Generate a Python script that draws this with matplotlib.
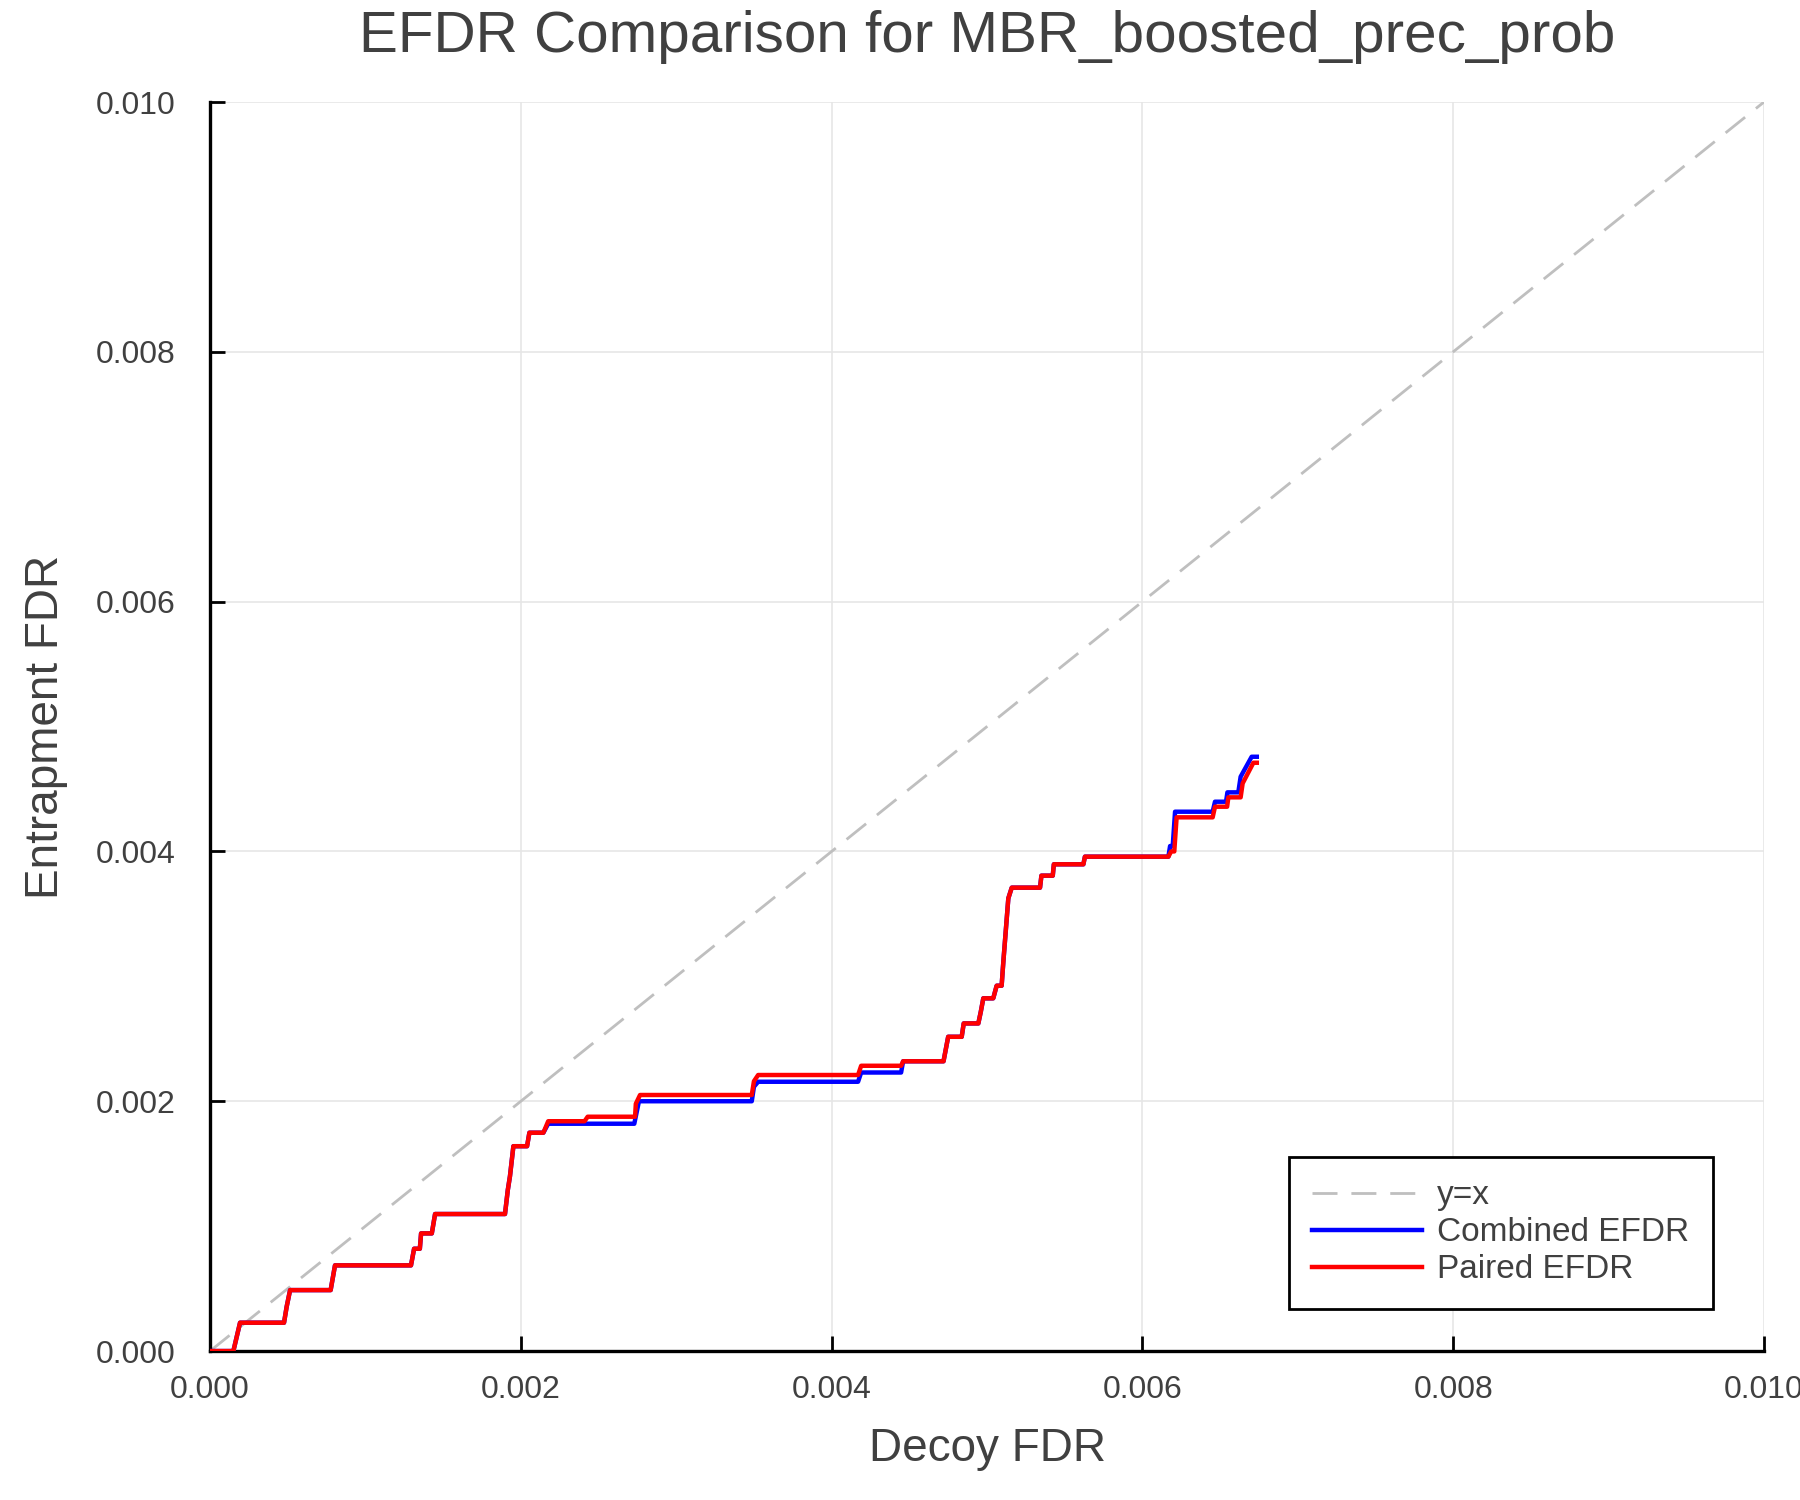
"""
EFDR comparison plot (decoy FDR vs entrapment FDR)
Generates: out.png
"""
import matplotlib
matplotlib.use("Agg")
import matplotlib.pyplot as plt
import numpy as np

TITLE = "EFDR Comparison for MBR_boosted_prec_prob"
X_LABEL = "Decoy FDR"
Y_LABEL = "Entrapment FDR"
TICKS = [0.000, 0.002, 0.004, 0.006, 0.008, 0.010]

# combined EFDR curve
combined_x = [
    0.0, 0.00015, 0.000193, 0.000476, 0.000493, 0.000515, 0.000776, 0.000804,
    0.001293, 0.001313, 0.00135, 0.001358, 0.001427, 0.001448, 0.001898, 0.001916,
    0.00193, 0.001952, 0.00204, 0.002055, 0.002145, 0.002176, 0.00273, 0.00276,
    0.003486, 0.0035, 0.003527, 0.00417, 0.00419, 0.004447, 0.00446, 0.00472,
    0.00475, 0.004837, 0.00485, 0.004944, 0.00496, 0.004976, 0.00504, 0.005062,
    0.005094, 0.005105, 0.005137, 0.005159, 0.005341, 0.00535, 0.005423, 0.00543,
    0.00562, 0.00563, 0.006167, 0.006178, 0.006195, 0.00621, 0.006452, 0.006467,
    0.006538, 0.006547, 0.006617, 0.006632, 0.006703, 0.006736,
]
combined_y = [
    0.0, 0.0, 0.000227, 0.000227, 0.000355, 0.000488, 0.000488, 0.000686,
    0.000686, 0.000819, 0.000819, 0.000942, 0.000942, 0.001097, 0.001097, 0.001289,
    0.0014, 0.00164, 0.00164, 0.001748, 0.001748, 0.00182, 0.00182, 0.002,
    0.002, 0.002116, 0.002156, 0.002156, 0.00223, 0.00223, 0.00232, 0.00232,
    0.002516, 0.002516, 0.002623, 0.002623, 0.002717, 0.002824, 0.002824, 0.002925,
    0.002925, 0.003117, 0.003624, 0.00371, 0.00371, 0.003806, 0.003806, 0.003897,
    0.003897, 0.003958, 0.003958, 0.004043, 0.004043, 0.004318, 0.004318, 0.004398,
    0.004398, 0.004473, 0.004473, 0.004598, 0.004758, 0.004758,
]

# paired EFDR curve
paired_x = [
    0.0, 0.00015, 0.000193, 0.000476, 0.000493, 0.000515, 0.000776, 0.000804,
    0.001293, 0.001313, 0.00135, 0.001358, 0.001427, 0.001448, 0.001898, 0.001916,
    0.00193, 0.001952, 0.00204, 0.002055, 0.002145, 0.002176, 0.00241, 0.00243,
    0.002735, 0.00274, 0.002767, 0.003486, 0.0035, 0.003527, 0.00417, 0.00419,
    0.004447, 0.00446, 0.00472, 0.00475, 0.004837, 0.00485, 0.004944, 0.00496,
    0.004976, 0.00504, 0.005062, 0.005094, 0.005105, 0.005137, 0.005159, 0.005341,
    0.00535, 0.005423, 0.00543, 0.00562, 0.00563, 0.006167, 0.006185, 0.006205,
    0.00622, 0.006452, 0.006467, 0.006545, 0.006553, 0.006632, 0.006645, 0.006714,
    0.006736,
]
paired_y = [
    0.0, 0.0, 0.000227, 0.000227, 0.000355, 0.000488, 0.000488, 0.000686,
    0.000686, 0.000819, 0.000819, 0.000942, 0.000942, 0.001097, 0.001097, 0.001289,
    0.0014, 0.00164, 0.00164, 0.001748, 0.001748, 0.00184, 0.00184, 0.001876,
    0.001876, 0.00198, 0.00205, 0.00205, 0.00216, 0.00221, 0.00221, 0.002284,
    0.002284, 0.00232, 0.00232, 0.002516, 0.002516, 0.002623, 0.002623, 0.002717,
    0.002824, 0.002824, 0.002925, 0.002925, 0.003117, 0.003624, 0.00371, 0.00371,
    0.003806, 0.003806, 0.003897, 0.003897, 0.003958, 0.003958, 0.004, 0.004,
    0.004273, 0.004273, 0.004358, 0.004358, 0.004433, 0.004433, 0.004545, 0.00471,
    0.00471,
]

TEXT_COLOR = "#404040"

plt.rcParams["font.family"] = ["Liberation Sans", "DejaVu Sans"]
plt.rcParams["figure.facecolor"] = "white"
plt.rcParams["axes.facecolor"] = "white"

fig = plt.figure(figsize=(18, 15), dpi=100)
ax = fig.add_axes([0.1167, 0.0993, 0.98 - 0.1167, 0.932 - 0.0993])

diag = np.array([0.0, 0.010])
ax.plot(diag, diag, color="#bfbfbf", lw=2.0, dashes=(9, 5), label="y=x", zorder=2)
ax.plot(combined_x, combined_y, color="#0000ff", lw=3.2, label="Combined EFDR", zorder=3)
ax.plot(paired_x, paired_y, color="#ff0000", lw=3.2, label="Paired EFDR", zorder=4)

ax.set_xlim(0, 0.010)
ax.set_ylim(0, 0.010)
ax.set_xticks(TICKS)
ax.set_yticks(TICKS)
ax.set_xticklabels([f"{t:.3f}" for t in TICKS])
ax.set_yticklabels([f"{t:.3f}" for t in TICKS])
ax.tick_params(axis="both", direction="in", length=11, width=2.0, color="black",
               labelsize=23, labelcolor=TEXT_COLOR)
ax.tick_params(axis="y", pad=25)
ax.tick_params(axis="x", pad=17)

ax.grid(True, color="#e6e6e6", linewidth=1.2)
ax.set_axisbelow(True)
for side in ("top", "right"):
    ax.spines[side].set_visible(False)
for side in ("left", "bottom"):
    ax.spines[side].set_linewidth(2.4)
    ax.spines[side].set_color("black")

ax.set_title(TITLE, fontsize=42, color=TEXT_COLOR, pad=36)
ax.set_xlabel(X_LABEL, fontsize=33, color=TEXT_COLOR, labelpad=16)
ax.set_ylabel(Y_LABEL, fontsize=33, color=TEXT_COLOR, labelpad=20)

leg = ax.legend(loc="lower right", bbox_to_anchor=(0.967, 0.034), fontsize=24,
                frameon=True, fancybox=False, edgecolor="black", framealpha=1.0,
                handlelength=3.3, handletextpad=0.45, borderpad=0.7, labelspacing=0.18,
                borderaxespad=0.0)
leg.get_frame().set_linewidth(2.0)
for text in leg.get_texts():
    text.set_color(TEXT_COLOR)

fig.savefig("out.png", dpi=100, facecolor="white")
plt.close(fig)
